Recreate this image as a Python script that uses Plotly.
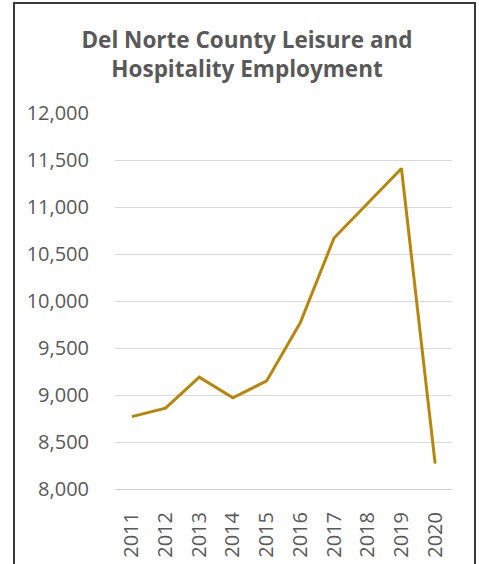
import plotly.graph_objects as go

years = ["2011", "2012", "2013", "2014", "2015", "2016", "2017", "2018", "2019", "2020"]
employment = [8770, 8860, 9190, 8970, 9150, 9770, 10670, 11040, 11410, 8270]
y_ticks = [8000, 8500, 9000, 9500, 10000, 10500, 11000, 11500, 12000]
y_tick_labels = ["8,000", "8,500", "9,000", "9,500", "10,000", "10,500", "11,000", "11,500", "12,000"]

W, H = 479, 564
L, R, T, B = 115, 27, 113, 75
pw, ph = W - L - R, H - T - B

fig = go.Figure()
fig.add_trace(go.Scatter(
    x=years, y=employment, mode="lines",
    line=dict(color="#B8860B", width=3),
    hoverinfo="x+y",
))

font_family = "Open Sans, sans-serif"
grey = "#595959"

fig.update_layout(
    width=W, height=H,
    margin=dict(l=L, r=R, t=T, b=B, autoexpand=False),
    paper_bgcolor="white", plot_bgcolor="white",
    showlegend=False,
    title=dict(
        text="<b>Del Norte County Leisure and<br>Hospitality Employment</b>",
        x=247 / W, xanchor="center",
        y=1 - 48 / H, yanchor="middle", yref="container",
        font=dict(family=font_family, size=22.5, color=grey),
    ),
    xaxis=dict(
        type="category", range=[-0.5, 9.5], automargin=False,
        showgrid=False, showline=True, linecolor="#d0d0d0", linewidth=1,
        tickangle=-90, tickfont=dict(family=font_family, size=20, color=grey),
        ticks="outside", ticklen=14, tickcolor="rgba(0,0,0,0)",
        fixedrange=True,
    ),
    yaxis=dict(
        range=[8000, 12000], tickvals=y_ticks, ticktext=y_tick_labels, automargin=False,
        showgrid=True, gridcolor="#d9d9d9", gridwidth=1,
        zeroline=False, showline=False,
        tickfont=dict(family=font_family, size=20, color=grey),
        ticks="outside", ticklen=21, tickcolor="rgba(0,0,0,0)",
        fixedrange=True,
    ),
    shapes=[dict(
        type="rect", xref="paper", yref="paper",
        x0=(14 - L) / pw, x1=(475 - L) / pw,
        y0=-(H + 10 - (T + ph)) / ph, y1=(T + ph - 3) / ph,
        line=dict(color="#3a3a3a", width=2), fillcolor="rgba(0,0,0,0)",
        layer="above",
    )],
)

fig.write_html(
    "out.html",
    config={"displayModeBar": False},
    post_script="document.body.style.margin='0';document.body.style.overflow='hidden';",
)
